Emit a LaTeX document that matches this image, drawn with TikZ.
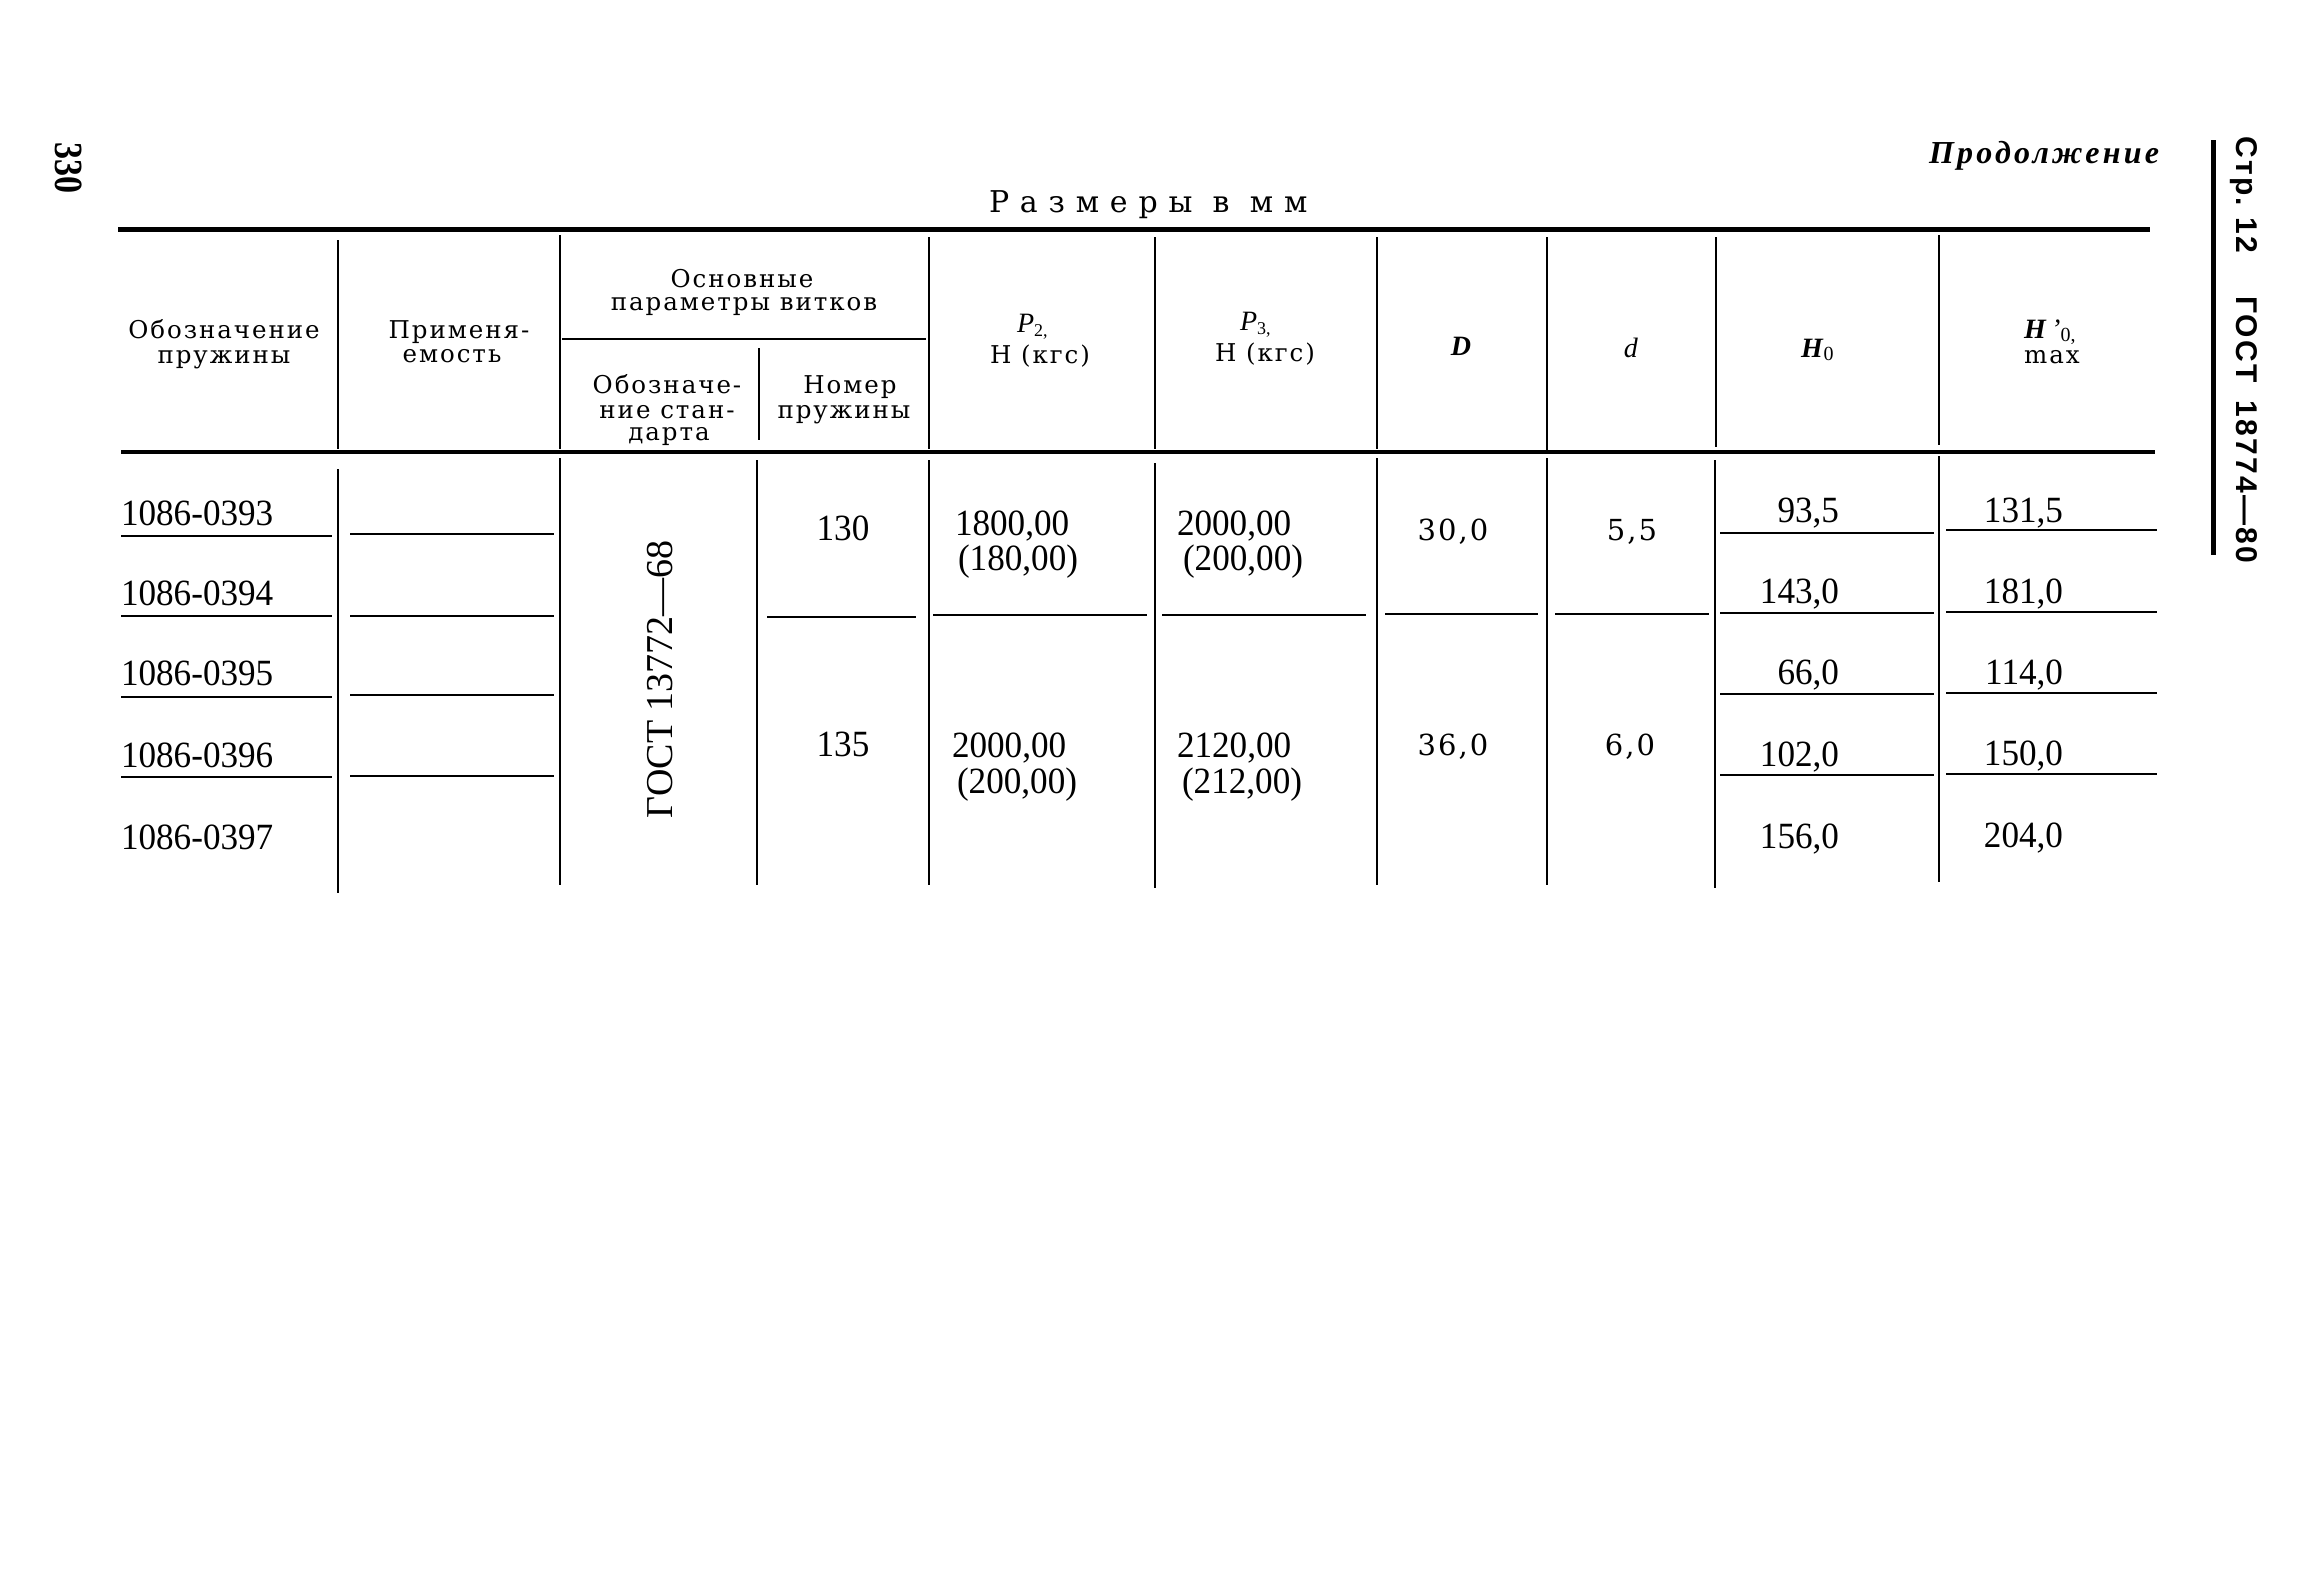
\documentclass[tikz,border=0pt]{standalone}
\usepackage{fontspec}
\setmainfont{Liberation Serif}
\newfontfamily\numf[FakeStretch=0.95]{Liberation Serif}
\newfontfamily\hdrf[LetterSpace=8]{DejaVu Serif}
\newfontfamily\widef[LetterSpace=36]{DejaVu Serif}
\newfontfamily\widenum[LetterSpace=7]{DejaVu Serif}
\newfontfamily\contf[LetterSpace=10]{Liberation Serif}
\newfontfamily\sidef[LetterSpace=8]{Liberation Sans}
\newfontfamily\pagenumf[FakeStretch=0.85]{Liberation Serif}
\begin{document}
\begin{tikzpicture}[x=1pt,y=-1pt,
  every node/.style={inner sep=0pt,outer sep=0pt},
  rulethick/.style={line width=5pt},
  rulemid/.style={line width=4pt},
  rulethin/.style={line width=2.8pt},
  num/.style={font=\numf\fontsize{37}{37}\selectfont},
  wnum/.style={font=\widenum\fontsize{29}{29}\selectfont},
  hdr/.style={font=\hdrf\fontsize{24.5}{24.5}\selectfont},
  sym/.style={font=\fontsize{28}{28}\selectfont},
  side/.style={font=\sidef\bfseries\fontsize{30}{30}\selectfont,rotate=-90,anchor=base west}
]
\useasboundingbox[fill=white] (0,0) rectangle (2312,1569);

% ---------- page furniture ----------
\node[font=\pagenumf\bfseries\fontsize{40}{40}\selectfont,rotate=-90,anchor=base west] (pnum) at (55,142) {330};
\node[font=\contf\bfseries\itshape\fontsize{32}{32}\selectfont,anchor=base west] (cont) at (1929,163) {Продолжение};
\node[font=\widef\fontsize{30}{30}\selectfont,anchor=base west] (title) at (989,212) {Размеры в мм};
\draw[line width=5pt] (2213,140) -- (2213,555);
\node[side] (s1) at (2236,136) {Стр.};
\node[side] (s2) at (2236,217) {12};
\node[side] (s3) at (2236,296) {ГОСТ};
\node[side] (s4) at (2236,400) {18774—80};

% ---------- header rules ----------
\draw[rulethick] (118,229) -- (2150,229);
\draw[rulethin] (338,240) -- (338,449);
\draw[rulethin] (560,235) -- (560,449);
\draw[rulethin] (929,237) -- (929,449);
\draw[rulethin] (1155,237) -- (1155,449);
\draw[rulethin] (1377,237) -- (1377,449);
\draw[rulethin] (1547,237) -- (1547,451);
\draw[rulethin] (1716,237) -- (1716,447);
\draw[rulethin] (1939,235) -- (1939,445);
\draw[rulethin] (562,339) -- (926,339);
\draw[rulethin] (759,348) -- (759,440);
\draw[rulemid] (121,452) -- (2155,452);

% ---------- header text ----------
\node[hdr,anchor=base] (hA1) at (224,338) {Обозначение};
\node[hdr,anchor=base] (hA2) at (224,363) {пружины};
\node[hdr,anchor=base] (hB1) at (459,338) {Применя-};
\node[hdr,anchor=base] (hB2) at (452,362) {емость};
\node[hdr,anchor=base] (hC1) at (742,287) {Основные};
\node[hdr,anchor=base] (hC2) at (744,310) {параметры витков};
\node[hdr,anchor=base] (hD1) at (667,393) {Обозначе-};
\node[hdr,anchor=base] (hD2) at (667,418) {ние стан-};
\node[hdr,anchor=base] (hD3) at (669,440) {дарта};
\node[hdr,anchor=base] (hE1) at (850,393) {Номер};
\node[hdr,anchor=base] (hE2) at (844,418) {пружины};
\node[sym,anchor=base west] (hP2) at (1017,332) {\textit{P}\raisebox{-4pt}{\fontsize{18}{18}\selectfont 2,}};
\node[hdr,anchor=base] (hP2u) at (1040,363) {Н (кгс)};
\node[sym,anchor=base west] (hP3) at (1240,330) {\textit{P}\raisebox{-4pt}{\fontsize{18}{18}\selectfont 3,}};
\node[hdr,anchor=base] (hP3u) at (1265,361) {Н (кгс)};
\node[sym,anchor=base] (hD) at (1461,355) {\textbf{\textit{D}}};
\node[sym,anchor=base] (hd) at (1631,357) {\textit{d}};
\node[sym,anchor=base west] (hH) at (1801,357) {\textbf{\textit{H}}\raisebox{-3pt}{\fontsize{20}{20}\selectfont 0}};
\node[sym,anchor=base west] (hHm) at (2024,338) {\textbf{\textit{H}}\,\textit{'}\raisebox{-3pt}{\fontsize{20}{20}\selectfont 0,}};
\node[hdr,anchor=base] (hmax) at (2052,363) {max};

% ---------- body verticals ----------
\draw[rulethin] (338,469) -- (338,893);
\draw[rulethin] (560,458) -- (560,885);
\draw[rulethin] (757,460) -- (757,885);
\draw[rulethin] (929,460) -- (929,885);
\draw[rulethin] (1155,463) -- (1155,888);
\draw[rulethin] (1377,458) -- (1377,885);
\draw[rulethin] (1547,458) -- (1547,885);
\draw[rulethin] (1715,460) -- (1715,888);
\draw[rulethin] (1939,456) -- (1939,882);

% ---------- row rules ----------
\foreach \yy in {536,616,697,777} \draw[rulethin] (121,\yy) -- (332,\yy);
\foreach \yy in {534,616,695,776} \draw[rulethin] (350,\yy) -- (554,\yy);
\draw[rulethin] (767,617) -- (916,617);
\draw[rulethin] (933,615) -- (1147,615);
\draw[rulethin] (1162,615) -- (1366,615);
\draw[rulethin] (1385,614) -- (1538,614);
\draw[rulethin] (1555,614) -- (1709,614);
\foreach \yy in {533,613,694,775} \draw[rulethin] (1720,\yy) -- (1934,\yy);
\foreach \yy in {530,612,693,774} \draw[rulethin] (1946,\yy) -- (2157,\yy);

% ---------- body text ----------
\node[num,anchor=base west] (r1) at (121,525) {1086-0393};
\node[num,anchor=base west] (r2) at (121,605) {1086-0394};
\node[num,anchor=base west] (r3) at (121,685) {1086-0395};
\node[num,anchor=base west] (r4) at (121,767) {1086-0396};
\node[num,anchor=base west] (r5) at (121,849) {1086-0397};

\node[font=\fontsize{38}{38}\selectfont,rotate=90,anchor=base west] (gost) at (672,818) {ГОСТ 13772—68};

\node[num,anchor=base] (n130) at (843,540) {130};
\node[num,anchor=base] (n135) at (843,756) {135};

\node[num,anchor=base west] (p2a) at (955,535) {1800,00};
\node[num,anchor=base west] (p2b) at (958,570) {(180,00)};
\node[num,anchor=base west] (p3a) at (1177,535) {2000,00};
\node[num,anchor=base west] (p3b) at (1183,570) {(200,00)};
\node[num,anchor=base west] (p2c) at (952,757) {2000,00};
\node[num,anchor=base west] (p2d) at (957,793) {(200,00)};
\node[num,anchor=base west] (p3c) at (1177,757) {2120,00};
\node[num,anchor=base west] (p3d) at (1182,793) {(212,00)};

\node[wnum,anchor=base] (D1) at (1453,540) {30,0};
\node[wnum,anchor=base] (D2) at (1453,755) {36,0};
\node[wnum,anchor=base] (d1) at (1632,540) {5,5};
\node[wnum,anchor=base] (d2) at (1630,755) {6,0};

\node[num,anchor=base east] (h1) at (1839,522) {93,5};
\node[num,anchor=base east] (h2) at (1839,603) {143,0};
\node[num,anchor=base east] (h3) at (1839,684) {66,0};
\node[num,anchor=base east] (h4) at (1839,766) {102,0};
\node[num,anchor=base east] (h5) at (1839,848) {156,0};

\node[num,anchor=base east] (m1) at (2063,522) {131,5};
\node[num,anchor=base east] (m2) at (2063,603) {181,0};
\node[num,anchor=base east] (m3) at (2063,684) {114,0};
\node[num,anchor=base east] (m4) at (2063,765) {150,0};
\node[num,anchor=base east] (m5) at (2063,847) {204,0};
\end{tikzpicture}
\end{document}
